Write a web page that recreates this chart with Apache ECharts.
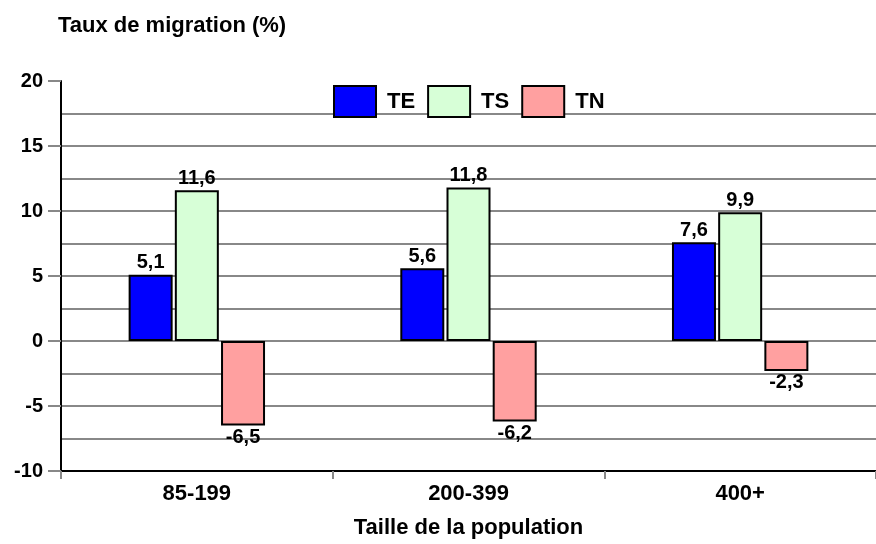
<!DOCTYPE html>
<html>
<head>
<meta charset="utf-8">
<script src="https://cdn.jsdelivr.net/npm/echarts@6/dist/echarts.min.js"></script>
<style>
  html, body { margin: 0; padding: 0; background: #fff; }
  #chart { width: 876px; height: 544px; }
</style>
</head>
<body>
<div id="chart"></div>
<script>
const categories = ['85-199', '200-399', '400+'];
const seriesNames = ['TE', 'TS', 'TN'];
const teValues = [5.1, 5.6, 7.6];
const tsValues = [11.6, 11.8, 9.9];
const tnValues = [-6.5, -6.2, -2.3];
const colors = ['#0000ff', '#d7ffd7', '#ffa0a0'];

const font = 'Liberation Sans, Arial, sans-serif';

function toData(values) {
    return values.map(v => ({
        value: v,
        label: { position: v < 0 ? 'bottom' : 'top' }
    }));
}

function makeSeries(name, values, color) {
    return {
        name: name,
        type: 'bar',
        barWidth: 44,
        barGap: '5%',
        itemStyle: {
            color: color,
            borderColor: '#000',
            borderWidth: 2
        },
        label: {
            show: true,
            distance: 2,
            fontFamily: font,
            fontWeight: 'bold',
            fontSize: 20,
            color: '#000',
            formatter: p => String(p.value).replace('.', ',')
        },
        data: toData(values)
    };
}

const chart = echarts.init(document.getElementById('chart'));
const option = {
    backgroundColor: '#fff',
    animation: false,
    textStyle: { fontFamily: font },
    title: {
        text: 'Taux de migration (%)',
        left: 53,
        top: 10,
        textStyle: { fontFamily: font, fontWeight: 'bold', fontSize: 22, color: '#000' }
    },
    legend: {
        data: seriesNames,
        left: 328,
        top: 80,
        itemWidth: 42,
        itemHeight: 31,
        itemGap: 12,
        icon: 'rect',
        textStyle: { fontFamily: font, fontWeight: 'bold', fontSize: 22, color: '#000', padding: [0, 0, 0, 6] }
    },
    grid: { left: 61, right: -10, top: 81, bottom: 71 },
    xAxis: {
        type: 'category',
        data: categories,
        name: 'Taille de la population',
        nameLocation: 'middle',
        nameGap: 46,
        nameTextStyle: { fontFamily: font, fontWeight: 'bold', fontSize: 22, color: '#000' },
        axisLine: { onZero: false, lineStyle: { color: '#000', width: 2 } },
        axisTick: { show: true, length: 8, lineStyle: { color: '#888', width: 2 } },
        axisLabel: { fontFamily: font, fontWeight: 'bold', fontSize: 22, color: '#000', margin: 12 }
    },
    yAxis: {
        type: 'value',
        min: -10,
        max: 20,
        interval: 5,
        axisLine: { show: true, lineStyle: { color: '#000', width: 2 } },
        axisTick: { show: true, length: 13, lineStyle: { color: '#888', width: 2 } },
        axisLabel: { fontFamily: font, fontWeight: 'bold', fontSize: 20, color: '#000', margin: 18 },
        splitLine: { show: true, showMaxLine: false, lineStyle: { color: '#888', width: 2 } },
        minorTick: { show: false, splitNumber: 2 },
        minorSplitLine: { show: true, lineStyle: { color: '#888', width: 2 } }
    },
    series: [
        makeSeries(seriesNames[0], teValues, colors[0]),
        makeSeries(seriesNames[1], tsValues, colors[1]),
        makeSeries(seriesNames[2], tnValues, colors[2])
    ]
};
chart.setOption(option);
</script>
</body>
</html>
